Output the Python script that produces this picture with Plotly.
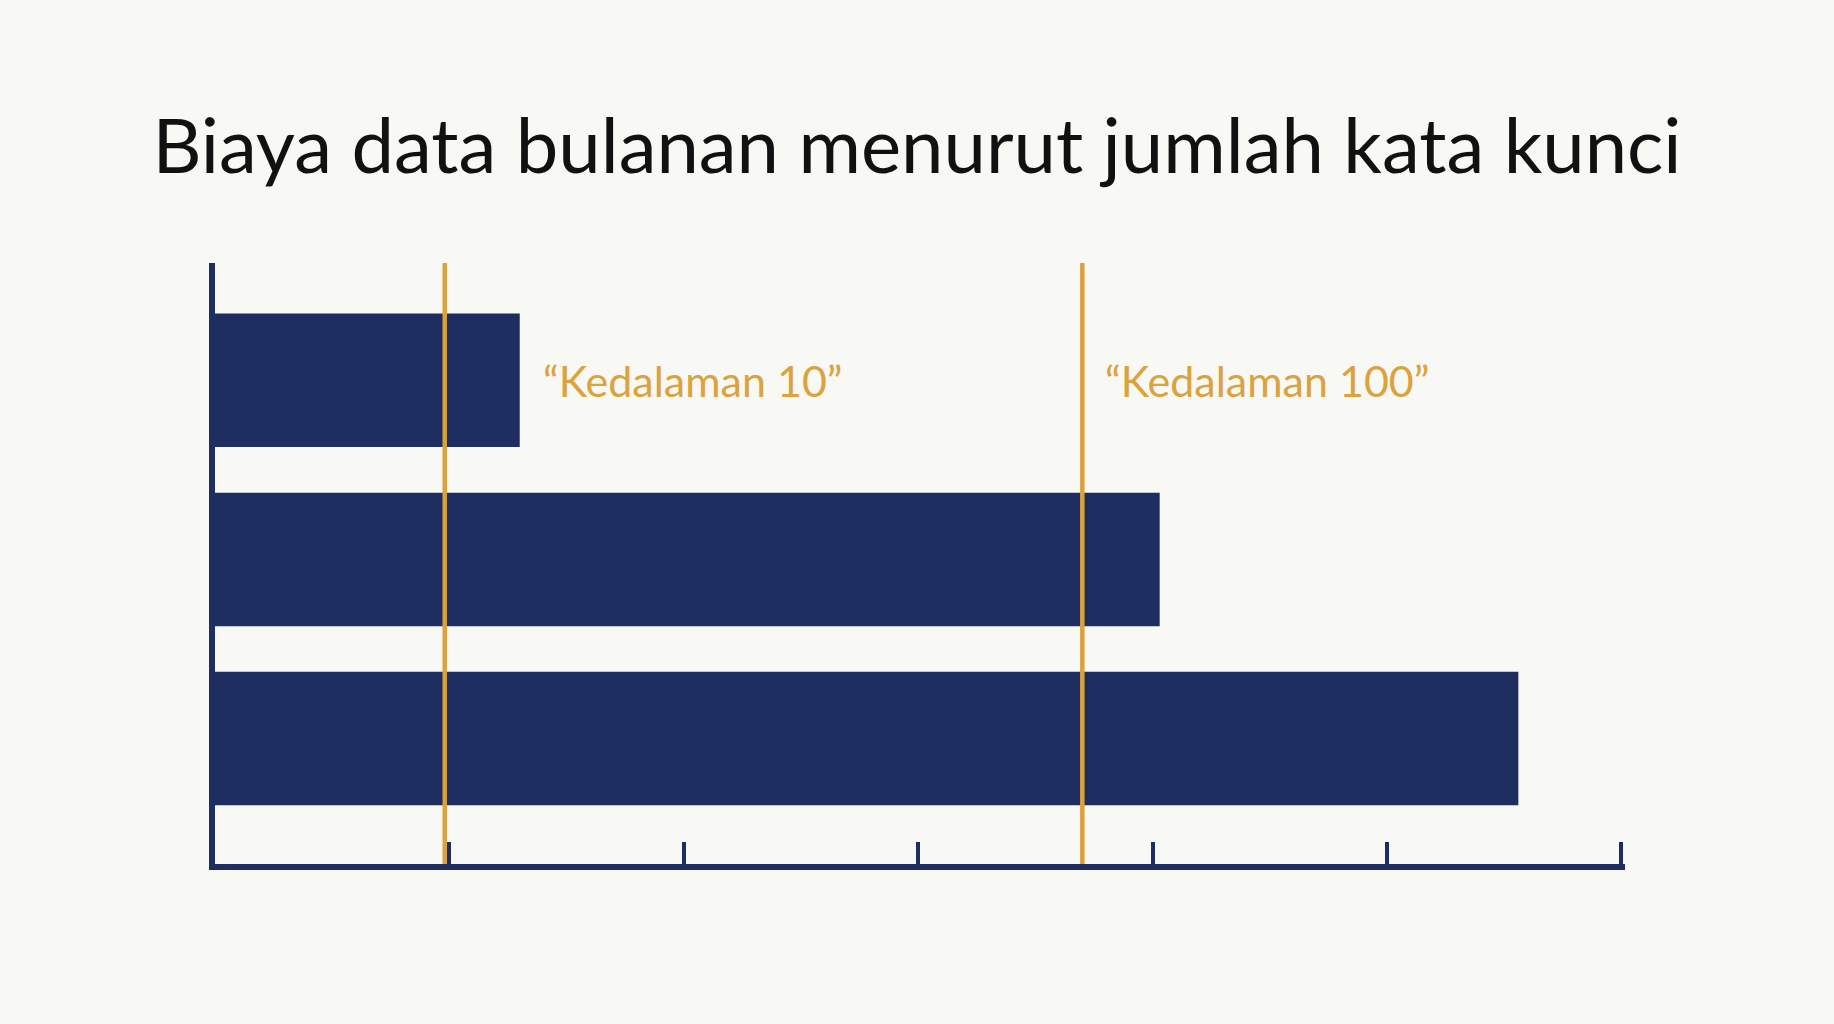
import plotly.graph_objects as go

# data
categories = ["A", "B", "C"]          # three keyword volumes, no labels shown
costs = [1.3, 4.03, 5.56]
depth_names = ["\u201cKedalaman 10\u201d", "\u201cKedalaman 100\u201d"]
depth_x = [0.98, 3.70]
label_x = [1.39, 3.79]

navy = "#1f2e61"
gold = "#dba23d"
bg = "#f8f8f4"

fig = go.Figure()

fig.add_trace(go.Bar(
    x=costs, y=categories,
    orientation="h",
    marker=dict(color=navy, line=dict(width=0)),
    width=0.745,
    hoverinfo="skip",
    showlegend=False,
))

# vertical depth markers
for xv in depth_x:
    fig.add_shape(type="line", xref="x", yref="paper",
                  x0=xv, x1=xv, y0=0, y1=1,
                  line=dict(color=gold, width=4.5), layer="above")

for name, xv in zip(depth_names, label_x):
    fig.add_annotation(x=xv, y=categories[0], text=name, showarrow=False,
                       xanchor="left", yanchor="middle",
                       font=dict(family="Lato", size=43, color=gold))

fig.update_layout(
    width=1834, height=1024,
    paper_bgcolor=bg, plot_bgcolor=bg,
    margin=dict(l=215, r=209, t=263, b=160),
    title=dict(text="Biaya data bulanan menurut jumlah kata kunci",
               x=0.5, xanchor="center", y=0.857, yanchor="middle",
               font=dict(family="Lato", size=76, color="#111111")),
    xaxis=dict(range=[0, 6.015], tickvals=[0, 1, 2, 3, 4, 5, 6],
               showgrid=False, zeroline=False,
               showline=True, linecolor=navy, linewidth=6,
               ticks="inside", ticklen=22, tickwidth=4, tickcolor=navy,
               showticklabels=False),
    yaxis=dict(range=[2.70, -0.654], showgrid=False, zeroline=False,
               showline=True, linecolor=navy, linewidth=6,
               ticks="", showticklabels=False),
)

fig.write_html("out.html", config={"displayModeBar": False},
               post_script="document.body.style.margin='0';")
